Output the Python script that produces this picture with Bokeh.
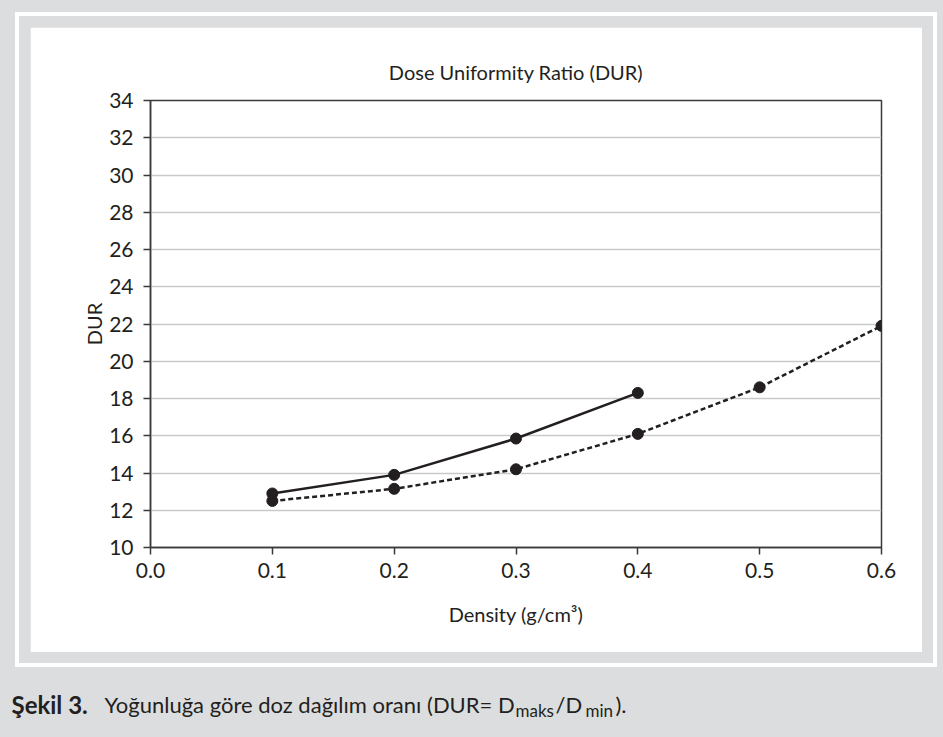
from bokeh.plotting import figure
from bokeh.models import Label, FixedTicker, Range1d
from bokeh.layouts import column
from bokeh.embed import file_html
from bokeh.resources import INLINE

# ---- data ----
density_solid = [0.1, 0.2, 0.3, 0.4]
dur_solid = [12.9, 13.9, 15.85, 18.3]
density_dashed = [0.1, 0.2, 0.3, 0.4, 0.5, 0.6]
dur_dashed = [12.5, 13.15, 14.2, 16.1, 18.6, 21.9]
x_ticks = [0.0, 0.1, 0.2, 0.3, 0.4, 0.5, 0.6]
x_tick_labels = ["0.0", "0.1", "0.2", "0.3", "0.4", "0.5", "0.6"]
y_ticks = [10, 12, 14, 16, 18, 20, 22, 24, 26, 28, 30, 32, 34]

FONT = "Lato"
INK = "#231f20"
GRAY = "#dcddde"

# ---- main chart (white panel) ----
p = figure(width=892, height=625, output_backend="svg", toolbar_location=None,
           x_range=Range1d(0, 0.6), y_range=Range1d(10, 34),
           min_border_left=120, min_border_right=41,
           min_border_top=73, min_border_bottom=105,
           title="Dose Uniformity Ratio (DUR)")
p.frame_align = False
p.margin = (27, 0, 0, 30)
p.styles = {"outline": "4px solid white", "outline-offset": "11px"}
p.border_fill_color = "white"
p.background_fill_color = "white"
p.outline_line_color = "#3a3a3a"
p.outline_line_width = 1.5

p.title.align = "center"
p.title.text_font = FONT
p.title.text_font_size = "20px"
p.title.text_font_style = "normal"
p.title.text_color = INK
p.title.standoff = 33

for ax in (p.xaxis[0], p.yaxis[0]):
    ax.axis_line_color = "#3a3a3a"
    ax.axis_line_width = 1.5
    ax.major_tick_line_color = "#3a3a3a"
    ax.major_tick_line_width = 1.5
    ax.major_tick_out = 7
    ax.major_tick_in = 0
    ax.minor_tick_line_color = None
    ax.major_label_text_font = FONT
    ax.major_label_text_font_size = "21px"
    ax.major_label_text_color = INK
    ax.axis_label_text_font = FONT
    ax.axis_label_text_font_size = "20px"
    ax.axis_label_text_font_style = "normal"
    ax.axis_label_text_color = INK

p.xaxis.ticker = FixedTicker(ticks=x_ticks)
p.xaxis.major_label_overrides = {t: l for t, l in zip(x_ticks, x_tick_labels)}
p.yaxis.ticker = FixedTicker(ticks=y_ticks)
p.xaxis.major_label_standoff = 8
p.yaxis.major_label_standoff = 10
p.xaxis.axis_label = "Density (g/cm³)"
p.xaxis.axis_label_standoff = 21
p.yaxis.axis_label = "DUR"
p.yaxis.axis_label_standoff = 0

p.xgrid.grid_line_color = None
p.ygrid.ticker = FixedTicker(ticks=y_ticks)
p.ygrid.grid_line_color = "#c9c9c9"
p.ygrid.grid_line_width = 1.5

p.line(density_solid, dur_solid, line_color=INK, line_width=2.5)
p.scatter(density_solid, dur_solid, size=11, fill_color=INK, line_color=INK)
p.line(density_dashed, dur_dashed, line_color=INK, line_width=2.5, line_dash="5 3")
p.scatter(density_dashed, dur_dashed, size=11, fill_color=INK, line_color=INK)

# ---- caption strip ----
cap_fig = figure(width=943, height=69, output_backend="svg", toolbar_location=None,
                 x_range=Range1d(0, 943), y_range=Range1d(69, 0),
                 x_axis_location=None, y_axis_location=None,
                 min_border=0)
cap_fig.frame_align = False
cap_fig.margin = (16, 0, 0, 0)
cap_fig.grid.visible = False
cap_fig.outline_line_color = None
cap_fig.background_fill_color = GRAY
cap_fig.border_fill_color = GRAY

cap_y = 36
def cap(x, text, size="22px", style="normal", dy=0):
    cap_fig.add_layout(Label(x=x, y=cap_y + dy, text=text, text_align="left",
                             text_baseline="alphabetic", text_font=FONT,
                             text_font_size=size, text_font_style=style,
                             text_color=INK))

cap(11, "Şekil 3.", size="24px", style="bold")
cap(104, "Yoğunluğa göre doz dağılım oranı (DUR= D")
cap(515, "maks", size="17px", dy=6)
cap(555, "/D")
cap(585, "min", size="17px", dy=6)
cap(615, ").")

root = column(p, cap_fig, width=943, height=737,
              styles={"background-color": GRAY})

open("out.html", "w").write(file_html(root, INLINE))
